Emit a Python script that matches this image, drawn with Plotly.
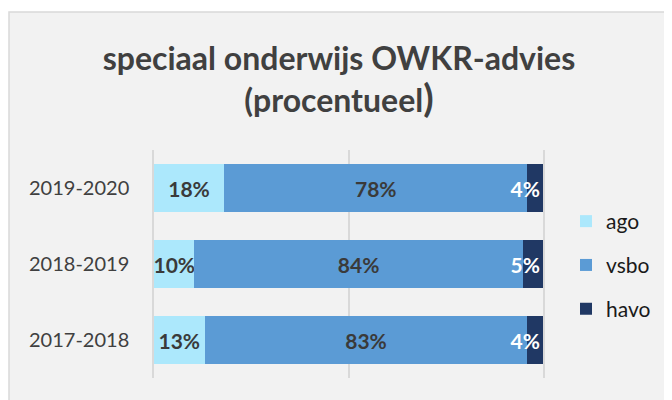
import plotly.graph_objects as go

categories = ["2017-2018", "2018-2019", "2019-2020"]
ago = [13, 10.4, 18]
vsbo = [83, 84.4, 78]
havo = [4, 5.2, 4]
series_names = ["ago", "vsbo", "havo"]
colors = ["#ACE8FC", "#5B9BD5", "#203864"]
text_colors = ["#3A3A3A", "#3A3A3A", "#FFFFFF"]

FONT = "Lato"

fig = go.Figure()
for name, vals, col, tcol in zip(series_names, [ago, vsbo, havo], colors, text_colors):
    fig.add_trace(go.Bar(
        y=categories, x=vals, name=name, orientation="h",
        marker=dict(color=col, line=dict(width=0)),
        texttemplate="<b>%{x:.0f}%</b>",
        textposition="inside",
        textangle=0,
        insidetextanchor="end" if name == "havo" else "middle",
        constraintext="none",
        textfont=dict(family=FONT, size=21, color=tcol),
        legendgroup=name,
        hoverinfo="skip",
    ))

# figure is drawn with an 8px page margin offset
L, R, T, B = 146, 137, 142, 30
W, H = 672, 400
ph = H - T - B
pw = W - L - R

fig.add_shape(type="rect", xref="paper", yref="paper", layer="below",
              x0=(1 - L) / pw, x1=(W + 20 - L) / pw,
              y0=-(B + 20) / ph, y1=(H - B - 4) / ph,
              fillcolor="#F2F2F2", line=dict(color="#D9D9D9", width=1.5))

fig.update_layout(
    width=W, height=H,
    margin=dict(l=L, r=R, t=T, b=B),
    paper_bgcolor="white",
    plot_bgcolor="rgba(0,0,0,0)",
    barmode="stack",
    bargap=0.37,
    title=dict(
        text="<b>speciaal onderwijs OWKR-advies</b><br><b>(procentueel<span style='font-size:38px'>)</span></b>",
        x=331 / W, xanchor="center", y=1 - 62 / H, yanchor="top",
        font=dict(family=FONT, size=32, color="#404040"),
    ),
    xaxis=dict(range=[0, 100], showticklabels=False, showgrid=True,
               gridcolor="#D9D9D9", gridwidth=1.5, dtick=50, zeroline=False,
               fixedrange=True),
    yaxis=dict(categoryorder="array", categoryarray=categories,
               tickfont=dict(family=FONT, size=20, color="#404040"),
               ticklabelstandoff=19, showgrid=False, zeroline=False,
               showline=True, mirror=True, linecolor="#D9D9D9", linewidth=1.5,
               ticks=""),
    legend=dict(x=(558 - L) / pw, xanchor="left", y=(370 - 193) / ph, yanchor="top",
                traceorder="grouped", tracegroupgap=13.5,
                font=dict(family=FONT, size=21, color="#1a1a1a"),
                bgcolor="rgba(0,0,0,0)"),
    showlegend=True,
)

fig.write_html("out.html")
